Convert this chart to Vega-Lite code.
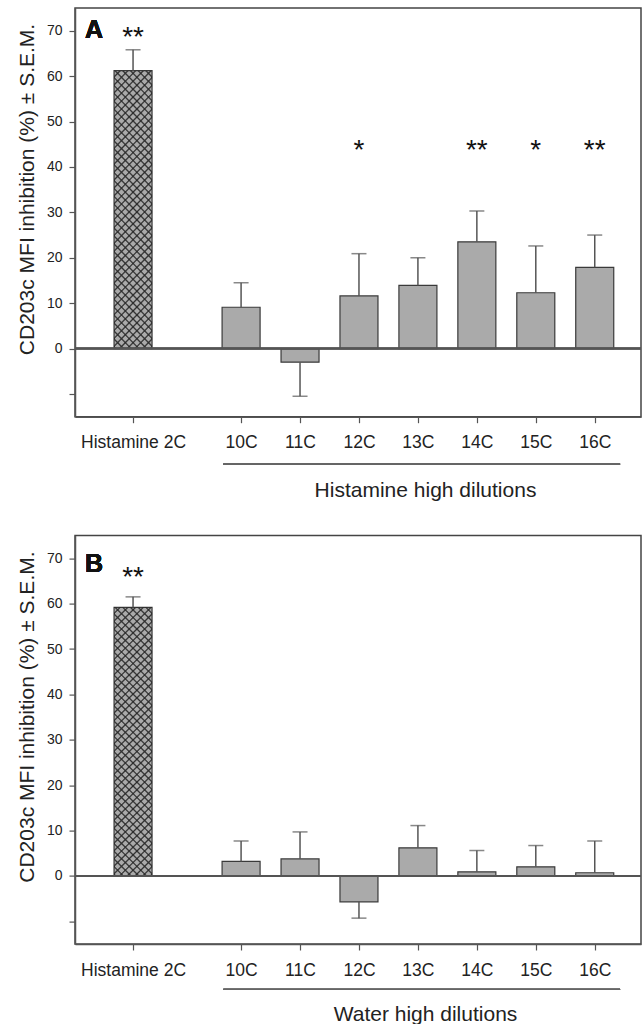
{
  "$schema": "https://vega.github.io/schema/vega-lite/v6.json",
  "background": "white",
  "padding": {"left": 15, "top": 7, "right": 0, "bottom": 0},
  "spacing": 118.6,
  "bounds": "flush",
  "params": [
    {"name": "hatch1", "value": {"gradient": "linear", "x1": 0, "y1": 0, "x2": 0.157, "y2": 1.118, "stops": [
        {"offset":0,"color":"transparent"},{"offset":0.015,"color":"transparent"},{"offset":0.02,"color":"#333"},
        {"offset":0.025,"color":"transparent"},{"offset":0.04,"color":"transparent"},{"offset":0.045,"color":"#333"},
        {"offset":0.05,"color":"transparent"},{"offset":0.065,"color":"transparent"},{"offset":0.07,"color":"#333"},
        {"offset":0.075,"color":"transparent"},{"offset":0.09,"color":"transparent"},{"offset":0.095,"color":"#333"},
        {"offset":0.1,"color":"transparent"},{"offset":0.115,"color":"transparent"},{"offset":0.12,"color":"#333"},
        {"offset":0.125,"color":"transparent"},{"offset":0.14,"color":"transparent"},{"offset":0.145,"color":"#333"},
        {"offset":0.15,"color":"transparent"},{"offset":0.165,"color":"transparent"},{"offset":0.17,"color":"#333"},
        {"offset":0.175,"color":"transparent"},{"offset":0.19,"color":"transparent"},{"offset":0.195,"color":"#333"},
        {"offset":0.2,"color":"transparent"},{"offset":0.215,"color":"transparent"},{"offset":0.22,"color":"#333"},
        {"offset":0.225,"color":"transparent"},{"offset":0.24,"color":"transparent"},{"offset":0.245,"color":"#333"},
        {"offset":0.25,"color":"transparent"},{"offset":0.265,"color":"transparent"},{"offset":0.27,"color":"#333"},
        {"offset":0.275,"color":"transparent"},{"offset":0.29,"color":"transparent"},{"offset":0.295,"color":"#333"},
        {"offset":0.3,"color":"transparent"},{"offset":0.315,"color":"transparent"},{"offset":0.32,"color":"#333"},
        {"offset":0.325,"color":"transparent"},{"offset":0.34,"color":"transparent"},{"offset":0.345,"color":"#333"},
        {"offset":0.35,"color":"transparent"},{"offset":0.365,"color":"transparent"},{"offset":0.37,"color":"#333"},
        {"offset":0.375,"color":"transparent"},{"offset":0.39,"color":"transparent"},{"offset":0.395,"color":"#333"},
        {"offset":0.4,"color":"transparent"},{"offset":0.415,"color":"transparent"},{"offset":0.42,"color":"#333"},
        {"offset":0.425,"color":"transparent"},{"offset":0.44,"color":"transparent"},{"offset":0.445,"color":"#333"},
        {"offset":0.45,"color":"transparent"},{"offset":0.465,"color":"transparent"},{"offset":0.47,"color":"#333"},
        {"offset":0.475,"color":"transparent"},{"offset":0.49,"color":"transparent"},{"offset":0.495,"color":"#333"},
        {"offset":0.5,"color":"transparent"},{"offset":0.515,"color":"transparent"},{"offset":0.52,"color":"#333"},
        {"offset":0.525,"color":"transparent"},{"offset":0.54,"color":"transparent"},{"offset":0.545,"color":"#333"},
        {"offset":0.55,"color":"transparent"},{"offset":0.565,"color":"transparent"},{"offset":0.57,"color":"#333"},
        {"offset":0.575,"color":"transparent"},{"offset":0.59,"color":"transparent"},{"offset":0.595,"color":"#333"},
        {"offset":0.6,"color":"transparent"},{"offset":0.615,"color":"transparent"},{"offset":0.62,"color":"#333"},
        {"offset":0.625,"color":"transparent"},{"offset":0.64,"color":"transparent"},{"offset":0.645,"color":"#333"},
        {"offset":0.65,"color":"transparent"},{"offset":0.665,"color":"transparent"},{"offset":0.67,"color":"#333"},
        {"offset":0.675,"color":"transparent"},{"offset":0.69,"color":"transparent"},{"offset":0.695,"color":"#333"},
        {"offset":0.7,"color":"transparent"},{"offset":0.715,"color":"transparent"},{"offset":0.72,"color":"#333"},
        {"offset":0.725,"color":"transparent"},{"offset":0.74,"color":"transparent"},{"offset":0.745,"color":"#333"},
        {"offset":0.75,"color":"transparent"},{"offset":0.765,"color":"transparent"},{"offset":0.77,"color":"#333"},
        {"offset":0.775,"color":"transparent"},{"offset":0.79,"color":"transparent"},{"offset":0.795,"color":"#333"},
        {"offset":0.8,"color":"transparent"},{"offset":0.815,"color":"transparent"},{"offset":0.82,"color":"#333"},
        {"offset":0.825,"color":"transparent"},{"offset":0.84,"color":"transparent"},{"offset":0.845,"color":"#333"},
        {"offset":0.85,"color":"transparent"},{"offset":0.865,"color":"transparent"},{"offset":0.87,"color":"#333"},
        {"offset":0.875,"color":"transparent"},{"offset":0.89,"color":"transparent"},{"offset":0.895,"color":"#333"},
        {"offset":0.9,"color":"transparent"},{"offset":0.915,"color":"transparent"},{"offset":0.92,"color":"#333"},
        {"offset":0.925,"color":"transparent"},{"offset":0.94,"color":"transparent"},{"offset":0.945,"color":"#333"},
        {"offset":0.95,"color":"transparent"},{"offset":0.965,"color":"transparent"},{"offset":0.97,"color":"#333"},
        {"offset":0.975,"color":"transparent"},{"offset":0.99,"color":"transparent"},{"offset":0.995,"color":"#333"},
        {"offset":1,"color":"transparent"}]}},
    {"name": "hatch2", "value": {"gradient": "linear", "x1": 1, "y1": 0, "x2": 0.843, "y2": 1.118, "stops": [
        {"offset":0,"color":"transparent"},{"offset":0.015,"color":"transparent"},{"offset":0.02,"color":"#333"},
        {"offset":0.025,"color":"transparent"},{"offset":0.04,"color":"transparent"},{"offset":0.045,"color":"#333"},
        {"offset":0.05,"color":"transparent"},{"offset":0.065,"color":"transparent"},{"offset":0.07,"color":"#333"},
        {"offset":0.075,"color":"transparent"},{"offset":0.09,"color":"transparent"},{"offset":0.095,"color":"#333"},
        {"offset":0.1,"color":"transparent"},{"offset":0.115,"color":"transparent"},{"offset":0.12,"color":"#333"},
        {"offset":0.125,"color":"transparent"},{"offset":0.14,"color":"transparent"},{"offset":0.145,"color":"#333"},
        {"offset":0.15,"color":"transparent"},{"offset":0.165,"color":"transparent"},{"offset":0.17,"color":"#333"},
        {"offset":0.175,"color":"transparent"},{"offset":0.19,"color":"transparent"},{"offset":0.195,"color":"#333"},
        {"offset":0.2,"color":"transparent"},{"offset":0.215,"color":"transparent"},{"offset":0.22,"color":"#333"},
        {"offset":0.225,"color":"transparent"},{"offset":0.24,"color":"transparent"},{"offset":0.245,"color":"#333"},
        {"offset":0.25,"color":"transparent"},{"offset":0.265,"color":"transparent"},{"offset":0.27,"color":"#333"},
        {"offset":0.275,"color":"transparent"},{"offset":0.29,"color":"transparent"},{"offset":0.295,"color":"#333"},
        {"offset":0.3,"color":"transparent"},{"offset":0.315,"color":"transparent"},{"offset":0.32,"color":"#333"},
        {"offset":0.325,"color":"transparent"},{"offset":0.34,"color":"transparent"},{"offset":0.345,"color":"#333"},
        {"offset":0.35,"color":"transparent"},{"offset":0.365,"color":"transparent"},{"offset":0.37,"color":"#333"},
        {"offset":0.375,"color":"transparent"},{"offset":0.39,"color":"transparent"},{"offset":0.395,"color":"#333"},
        {"offset":0.4,"color":"transparent"},{"offset":0.415,"color":"transparent"},{"offset":0.42,"color":"#333"},
        {"offset":0.425,"color":"transparent"},{"offset":0.44,"color":"transparent"},{"offset":0.445,"color":"#333"},
        {"offset":0.45,"color":"transparent"},{"offset":0.465,"color":"transparent"},{"offset":0.47,"color":"#333"},
        {"offset":0.475,"color":"transparent"},{"offset":0.49,"color":"transparent"},{"offset":0.495,"color":"#333"},
        {"offset":0.5,"color":"transparent"},{"offset":0.515,"color":"transparent"},{"offset":0.52,"color":"#333"},
        {"offset":0.525,"color":"transparent"},{"offset":0.54,"color":"transparent"},{"offset":0.545,"color":"#333"},
        {"offset":0.55,"color":"transparent"},{"offset":0.565,"color":"transparent"},{"offset":0.57,"color":"#333"},
        {"offset":0.575,"color":"transparent"},{"offset":0.59,"color":"transparent"},{"offset":0.595,"color":"#333"},
        {"offset":0.6,"color":"transparent"},{"offset":0.615,"color":"transparent"},{"offset":0.62,"color":"#333"},
        {"offset":0.625,"color":"transparent"},{"offset":0.64,"color":"transparent"},{"offset":0.645,"color":"#333"},
        {"offset":0.65,"color":"transparent"},{"offset":0.665,"color":"transparent"},{"offset":0.67,"color":"#333"},
        {"offset":0.675,"color":"transparent"},{"offset":0.69,"color":"transparent"},{"offset":0.695,"color":"#333"},
        {"offset":0.7,"color":"transparent"},{"offset":0.715,"color":"transparent"},{"offset":0.72,"color":"#333"},
        {"offset":0.725,"color":"transparent"},{"offset":0.74,"color":"transparent"},{"offset":0.745,"color":"#333"},
        {"offset":0.75,"color":"transparent"},{"offset":0.765,"color":"transparent"},{"offset":0.77,"color":"#333"},
        {"offset":0.775,"color":"transparent"},{"offset":0.79,"color":"transparent"},{"offset":0.795,"color":"#333"},
        {"offset":0.8,"color":"transparent"},{"offset":0.815,"color":"transparent"},{"offset":0.82,"color":"#333"},
        {"offset":0.825,"color":"transparent"},{"offset":0.84,"color":"transparent"},{"offset":0.845,"color":"#333"},
        {"offset":0.85,"color":"transparent"},{"offset":0.865,"color":"transparent"},{"offset":0.87,"color":"#333"},
        {"offset":0.875,"color":"transparent"},{"offset":0.89,"color":"transparent"},{"offset":0.895,"color":"#333"},
        {"offset":0.9,"color":"transparent"},{"offset":0.915,"color":"transparent"},{"offset":0.92,"color":"#333"},
        {"offset":0.925,"color":"transparent"},{"offset":0.94,"color":"transparent"},{"offset":0.945,"color":"#333"},
        {"offset":0.95,"color":"transparent"},{"offset":0.965,"color":"transparent"},{"offset":0.97,"color":"#333"},
        {"offset":0.975,"color":"transparent"},{"offset":0.99,"color":"transparent"},{"offset":0.995,"color":"#333"},
        {"offset":1,"color":"transparent"}]}}
  ],
  "config": {
    "font": "Liberation Sans",
    "view": {"stroke": "#444", "strokeWidth": 1.5},
    "axis": {"grid": false, "domainColor": "#555", "domainWidth": 1.5, "tickColor": "#555", "tickWidth": 1.2, "tickSize": 6, "labelColor": "#222", "titleColor": "#222", "titleFontWeight": "normal", "labelFont": "Liberation Sans", "titleFont": "Liberation Sans"}
  },
  "vconcat": [
    {
      "width": 566,
      "height": 408.7,
      "data": {"values": [
        {"cond": "Histamine 2C", "pos": 8.167, "mean": 61.2, "err": 65.8, "sig": "**", "sigY": 69.3},
        {"cond": "10C", "pos": 10, "mean": 9.1, "err": 14.5, "sig": "", "sigY": 44.3},
        {"cond": "11C", "pos": 11, "mean": -3.0, "err": -10.5, "sig": "", "sigY": 44.3},
        {"cond": "12C", "pos": 12, "mean": 11.6, "err": 20.9, "sig": "*", "sigY": 44.3},
        {"cond": "13C", "pos": 13, "mean": 13.9, "err": 20.0, "sig": "", "sigY": 44.3},
        {"cond": "14C", "pos": 14, "mean": 23.5, "err": 30.3, "sig": "**", "sigY": 44.3},
        {"cond": "15C", "pos": 15, "mean": 12.3, "err": 22.6, "sig": "*", "sigY": 44.3},
        {"cond": "16C", "pos": 16, "mean": 17.9, "err": 25.0, "sig": "**", "sigY": 44.3}
      ]},
      "layer": [
        {
          "mark": {"type": "bar", "width": 38, "fill": "#aaaaaa", "stroke": "#3a3a3a", "strokeWidth": 1.2},
          "encoding": {
            "x": {"field": "pos", "type": "quantitative", "scale": {"domain": [7.267, 16.7], "nice": false, "zero": false},
              "axis": {"values": [8.167, 10, 11, 12, 13, 14, 15, 16], "labelExpr": "datum.value < 9 ? 'Histamine 2C' : datum.value + 'C'", "labelFontSize": 17.5, "labelPadding": 11, "title": "Histamine high dilutions", "titleFontSize": 21, "titleX": 350, "titleY": 80, "titleBaseline": "alphabetic", "titleAlign": "center"}},
            "y": {"field": "mean", "type": "quantitative", "scale": {"domain": [-15, 75], "nice": false},
              "axis": {"values": [-10, 0, 10, 20, 30, 40, 50, 60, 70], "labelExpr": "datum.value < 0 ? '' : datum.label", "labelFontSize": 14, "labelPadding": 7, "title": "CD203c MFI inhibition (%) ± S.E.M.", "titleFontSize": 21, "titleX": -42, "titleY": 181, "titleBaseline": "alphabetic", "titleAlign": "center"}}
          }
        },
        {
          "transform": [{"filter": "datum.pos < 9"}],
          "mark": {"type": "bar", "width": 38, "fill": {"expr": "hatch1"}},
          "encoding": {"x": {"field": "pos", "type": "quantitative"}, "y": {"field": "mean", "type": "quantitative"}}
        },
        {
          "transform": [{"filter": "datum.pos < 9"}],
          "mark": {"type": "bar", "width": 38, "fill": {"expr": "hatch2"}},
          "encoding": {"x": {"field": "pos", "type": "quantitative"}, "y": {"field": "mean", "type": "quantitative"}}
        },
        {
          "mark": {"type": "rule", "color": "#555", "strokeWidth": 1.5},
          "encoding": {"y": {"datum": 0}}
        },
        {
          "mark": {"type": "rule", "color": "#555", "strokeWidth": 1.5},
          "encoding": {"x": {"field": "pos", "type": "quantitative"}, "y": {"field": "mean", "type": "quantitative"}, "y2": {"field": "err"}}
        },
        {
          "mark": {"type": "tick", "orient": "horizontal", "size": 15, "thickness": 1.5, "color": "#555"},
          "encoding": {"x": {"field": "pos", "type": "quantitative"}, "y": {"field": "err", "type": "quantitative"}}
        },
        {
          "transform": [{"filter": "datum.sig != ''"}],
          "mark": {"type": "text", "fontSize": 28, "dy": 12, "baseline": "alphabetic", "color": "#111"},
          "encoding": {"x": {"field": "pos", "type": "quantitative"}, "y": {"field": "sigY", "type": "quantitative"}, "text": {"field": "sig"}}
        },
        {
          "mark": {"type": "text", "text": "A", "fontSize": 25, "fontWeight": "bold", "align": "left", "baseline": "alphabetic", "color": "#111"},
          "encoding": {"x": {"datum": 7.35}, "y": {"datum": 68.3}}
        },
        {
          "mark": {"type": "rule", "color": "#666", "strokeWidth": 1.2},
          "encoding": {"x": {"datum": 9.7}, "x2": {"datum": 16.43}, "y": {"datum": -25.44}}
        }
      ]
    },
    {
      "width": 566,
      "height": 408.4,
      "data": {"values": [
        {"cond": "Histamine 2C", "pos": 8.167, "mean": 59.2, "err": 61.5, "sig": "**", "sigY": 66.6},
        {"cond": "10C", "pos": 10, "mean": 3.2, "err": 7.7, "sig": "", "sigY": 0},
        {"cond": "11C", "pos": 11, "mean": 3.75, "err": 9.7, "sig": "", "sigY": 0},
        {"cond": "12C", "pos": 12, "mean": -5.7, "err": -9.3, "sig": "", "sigY": 0},
        {"cond": "13C", "pos": 13, "mean": 6.2, "err": 11.1, "sig": "", "sigY": 0},
        {"cond": "14C", "pos": 14, "mean": 0.9, "err": 5.6, "sig": "", "sigY": 0},
        {"cond": "15C", "pos": 15, "mean": 2.0, "err": 6.7, "sig": "", "sigY": 0},
        {"cond": "16C", "pos": 16, "mean": 0.7, "err": 7.7, "sig": "", "sigY": 0}
      ]},
      "layer": [
        {
          "mark": {"type": "bar", "width": 38, "fill": "#aaaaaa", "stroke": "#3a3a3a", "strokeWidth": 1.2},
          "encoding": {
            "x": {"field": "pos", "type": "quantitative", "scale": {"domain": [7.267, 16.7], "nice": false, "zero": false},
              "axis": {"values": [8.167, 10, 11, 12, 13, 14, 15, 16], "labelExpr": "datum.value < 9 ? 'Histamine 2C' : datum.value + 'C'", "labelFontSize": 17.5, "labelPadding": 11, "title": "Water high dilutions", "titleFontSize": 21, "titleX": 350, "titleY": 76, "titleBaseline": "alphabetic", "titleAlign": "center"}},
            "y": {"field": "mean", "type": "quantitative", "scale": {"domain": [-15, 75], "nice": false},
              "axis": {"values": [-10, 0, 10, 20, 30, 40, 50, 60, 70], "labelExpr": "datum.value < 0 ? '' : datum.label", "labelFontSize": 14, "labelPadding": 7, "title": "CD203c MFI inhibition (%) ± S.E.M.", "titleFontSize": 21, "titleX": -42, "titleY": 181, "titleBaseline": "alphabetic", "titleAlign": "center"}}
          }
        },
        {
          "transform": [{"filter": "datum.pos < 9"}],
          "mark": {"type": "bar", "width": 38, "fill": {"expr": "hatch1"}},
          "encoding": {"x": {"field": "pos", "type": "quantitative"}, "y": {"field": "mean", "type": "quantitative"}}
        },
        {
          "transform": [{"filter": "datum.pos < 9"}],
          "mark": {"type": "bar", "width": 38, "fill": {"expr": "hatch2"}},
          "encoding": {"x": {"field": "pos", "type": "quantitative"}, "y": {"field": "mean", "type": "quantitative"}}
        },
        {
          "mark": {"type": "rule", "color": "#555", "strokeWidth": 1.5},
          "encoding": {"y": {"datum": 0}}
        },
        {
          "mark": {"type": "rule", "color": "#555", "strokeWidth": 1.5},
          "encoding": {"x": {"field": "pos", "type": "quantitative"}, "y": {"field": "mean", "type": "quantitative"}, "y2": {"field": "err"}}
        },
        {
          "mark": {"type": "tick", "orient": "horizontal", "size": 15, "thickness": 1.5, "color": "#555"},
          "encoding": {"x": {"field": "pos", "type": "quantitative"}, "y": {"field": "err", "type": "quantitative"}}
        },
        {
          "transform": [{"filter": "datum.sig != ''"}],
          "mark": {"type": "text", "fontSize": 28, "dy": 12, "baseline": "alphabetic", "color": "#111"},
          "encoding": {"x": {"field": "pos", "type": "quantitative"}, "y": {"field": "sigY", "type": "quantitative"}, "text": {"field": "sig"}}
        },
        {
          "mark": {"type": "text", "text": "B", "fontSize": 25, "fontWeight": "bold", "align": "left", "baseline": "alphabetic", "color": "#111"},
          "encoding": {"x": {"datum": 7.35}, "y": {"datum": 67.0}}
        },
        {
          "mark": {"type": "rule", "color": "#666", "strokeWidth": 1.2},
          "encoding": {"x": {"datum": 9.7}, "x2": {"datum": 16.43}, "y": {"datum": -25.0}}
        }
      ]
    }
  ]
}
